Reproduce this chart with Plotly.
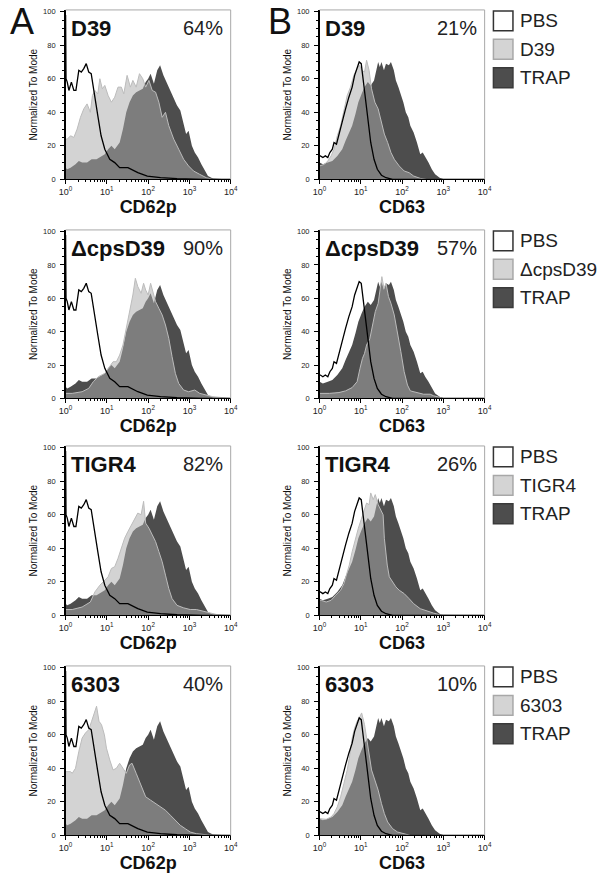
import numpy as np
import plotly.graph_objects as go

# ---------------- text / categories ----------------
strains = ["D39", "\u0394cpsD39", "TIGR4", "6303"]
markers = ["CD62p", "CD63"]
pct_cd62p = ["64%", "90%", "82%", "40%"]
pct_cd63 = ["21%", "57%", "26%", "10%"]
panel_letters = ["A", "B"]
control_label = "PBS"
agonist_label = "TRAP"
y_title = "Normalized To Mode"
x_tick_vals = [1, 10, 100, 1000, 10000]
x_tick_text = ["10<sup>0</sup>", "10<sup>1</sup>", "10<sup>2</sup>", "10<sup>3</sup>", "10<sup>4</sup>"]
y_tick_vals = [0, 20, 40, 60, 80, 100]

# ---------------- data (log10 fluorescence, % of mode) ----------------
# CD62p controls
cd62p_pbs_lx = [0.00, 0.01, 0.04, 0.08, 0.14, 0.20, 0.25, 0.32, 0.38, 0.44, 0.50, 0.56, 0.62, 0.65,
                0.70, 0.78, 0.86, 0.95, 1.07, 1.19, 1.31, 1.51, 1.75, 1.98, 2.30, 2.70, 3.33, 4.00]
cd62p_pbs_y = [98, 60, 58, 53, 58, 53, 53, 65, 64, 66, 69, 64, 63, 58,
               50, 38, 26, 18, 12, 10, 7, 7, 4, 2, 1, 0.4, 0, 0]
cd62p_trap_lx = [0.00, 0.04, 0.12, 0.24, 0.32, 0.40, 0.52, 0.63, 0.75, 0.87, 0.95, 1.03, 1.11, 1.19, 1.31,
                 1.39, 1.47, 1.55, 1.63, 1.71, 1.79, 1.87, 1.94, 2.00, 2.06, 2.14, 2.22, 2.29, 2.37, 2.46,
                 2.54, 2.62, 2.70, 2.78, 2.86, 2.92, 2.98, 3.06, 3.13, 3.21, 3.29, 3.37, 3.45, 3.57, 4.00]
cd62p_trap_y = [7, 6, 7, 9, 11, 10, 10, 12, 12, 14, 15, 18, 20, 18, 22,
                30, 40, 46, 50, 52, 53, 54, 58, 60, 63, 57, 65, 68, 62, 57,
                52, 48, 44, 41, 32, 27, 29, 20, 16, 13, 9, 5, 2, 0.5, 0]
# CD62p samples
cd62p_d39_lx = [0.00, 0.04, 0.12, 0.20, 0.28, 0.36, 0.44, 0.52, 0.60, 0.65, 0.71, 0.78, 0.83, 0.89, 0.95,
                1.03, 1.11, 1.19, 1.27, 1.35, 1.41, 1.49, 1.57, 1.63, 1.71, 1.79, 1.87, 1.94, 2.02, 2.10,
                2.18, 2.26, 2.34, 2.42, 2.50, 2.62, 2.74, 2.86, 2.98, 3.10, 3.25, 3.41, 3.57, 4.00]
cd62p_d39_y = [24, 24, 26, 25, 30, 37, 42, 45, 40, 50, 53, 51, 60, 54, 56,
               50, 46, 49, 55, 55, 51, 62, 55, 59, 55, 63, 60, 55, 59, 53,
               52, 46, 37, 40, 32, 24, 18, 12, 8, 5, 3, 1, 0, 0]
cd62p_cps_lx = [0.00, 0.16, 0.40, 0.56, 0.67, 0.79, 0.95, 1.07, 1.15, 1.23, 1.31, 1.39, 1.47, 1.55, 1.63,
                1.69, 1.75, 1.83, 1.89, 1.94, 2.00, 2.06, 2.13, 2.18, 2.26, 2.34, 2.42, 2.50, 2.58, 2.66,
                2.74, 2.86, 2.98, 3.13, 3.25, 3.41, 3.57, 4.00]
cd62p_cps_y = [3, 3, 4, 6, 10, 13, 15, 19, 22, 22, 26, 32, 42, 52, 62,
               72, 67, 63, 69, 65, 62, 69, 62, 58, 54, 50, 44, 36, 25, 15,
               9, 5, 4, 5, 3, 2, 1, 0]
cd62p_tigr4_lx = [0.00, 0.16, 0.40, 0.60, 0.71, 0.83, 0.95, 1.03, 1.11, 1.19, 1.27, 1.35, 1.43, 1.51, 1.59,
                  1.67, 1.75, 1.83, 1.89, 1.94, 2.02, 2.10, 2.18, 2.26, 2.34, 2.42, 2.50, 2.58, 2.70, 2.86,
                  3.02, 3.17, 3.33, 3.49, 3.65, 4.00]
cd62p_tigr4_y = [3.5, 3.5, 5, 8, 14, 18, 21, 23, 28, 29, 34, 40, 46, 50, 54,
                 58, 61, 60, 68, 55, 52, 48, 44, 38, 32, 24, 16, 10, 6, 4.5,
                 3.5, 3.5, 2.5, 1.5, 0.6, 0]
cd62p_6303_lx = [0.00, 0.12, 0.16, 0.24, 0.32, 0.40, 0.48, 0.56, 0.63, 0.70, 0.75, 0.81, 0.87, 0.94, 0.99,
                 1.07, 1.15, 1.23, 1.31, 1.39, 1.47, 1.55, 1.61, 1.71, 1.83, 1.94, 2.06, 2.18, 2.30, 2.42,
                 2.54, 2.66, 2.78, 2.90, 3.02, 3.17, 3.49, 4.00]
cd62p_6303_y = [38, 38, 37, 40, 50, 58, 61, 63, 68, 74, 77, 68, 66, 60, 52,
                45, 39, 40, 43, 40, 37, 42, 43, 37, 30, 23, 21, 19, 17, 15,
                12, 9, 6, 4, 2, 1, 0.2, 0]

# CD63 controls
cd63_pbs_lx = [0.00, 0.02, 0.08, 0.14, 0.20, 0.25, 0.31, 0.35, 0.41, 0.47, 0.55, 0.63, 0.71, 0.79,
               0.85, 0.91, 0.96, 1.01, 1.06, 1.12, 1.18, 1.24, 1.32, 1.40, 1.50, 1.61, 1.77, 4.00]
cd63_pbs_y = [14, 14, 13, 14, 13, 16, 18, 22, 21, 27, 34, 42, 49, 55,
              62, 67, 70, 69, 59, 48, 34, 22, 12, 6, 2.5, 1, 0, 0]
cd63_trap_lx = [0.00, 0.08, 0.20, 0.31, 0.43, 0.55, 0.63, 0.71, 0.79, 0.87, 0.94, 1.02, 1.09, 1.17, 1.24,
                1.32, 1.38, 1.42, 1.46, 1.50, 1.56, 1.61, 1.68, 1.73, 1.80, 1.85, 1.91, 1.97, 2.03, 2.09,
                2.15, 2.20, 2.28, 2.36, 2.44, 2.50, 2.56, 2.64, 2.72, 2.80, 2.91, 3.03, 4.00]
cd63_trap_y = [10, 9, 10, 11, 14, 18, 23, 27, 32, 39, 46, 51, 55, 58, 56,
               59, 66, 70, 67, 70, 65, 69, 68, 70, 65, 59, 55, 51, 46, 40,
               37, 32, 28, 22, 15, 16, 13, 10, 6, 3, 1, 0, 0]
# CD63 samples
cd63_d39_lx = [0.00, 0.12, 0.20, 0.28, 0.35, 0.43, 0.51, 0.59, 0.67, 0.75, 0.83, 0.91, 0.97, 1.02, 1.09,
               1.14, 1.20, 1.26, 1.34, 1.42, 1.50, 1.57, 1.65, 1.73, 1.81, 1.93, 2.05, 2.17, 2.28, 2.44,
               2.60, 4.00]
cd63_d39_y = [8, 9, 11, 14, 18, 26, 32, 42, 50, 55, 62, 66, 68, 65, 64,
              71, 65, 54, 46, 42, 34, 27, 22, 16, 12, 8, 5, 4, 2, 0.6,
              0, 0]
cd63_cps_lx = [0.00, 0.24, 0.47, 0.63, 0.79, 0.91, 0.98, 1.04, 1.09, 1.14, 1.22, 1.30, 1.35, 1.42, 1.46,
               1.51, 1.56, 1.61, 1.67, 1.73, 1.81, 1.89, 1.97, 2.05, 2.13, 2.20, 2.36, 2.52, 2.68, 2.76,
               2.91, 2.99, 4.00]
cd63_cps_y = [3, 3, 3.5, 4.5, 6.5, 10, 18, 24, 27, 32, 36, 46, 52, 57, 63,
              73, 66, 69, 61, 57, 50, 40, 28, 16, 8, 4.5, 3.5, 2.5, 2.5, 1.6,
              0.6, 0, 0]
cd63_tigr4_lx = [0.00, 0.04, 0.16, 0.28, 0.39, 0.51, 0.59, 0.67, 0.72, 0.79, 0.87, 0.94, 1.02, 1.09, 1.14,
                 1.20, 1.24, 1.30, 1.35, 1.42, 1.48, 1.54, 1.57, 1.64, 1.69, 1.77, 1.85, 1.93, 2.05, 2.17,
                 2.28, 2.44, 2.60, 2.76, 2.91, 4.00]
cd63_tigr4_y = [9, 9, 8, 9, 12, 15, 19, 25, 30, 38, 46, 52, 58, 64, 67,
                66, 73, 69, 72, 66, 63, 60, 46, 30, 23, 20, 17, 15, 13, 10,
                7, 4, 2.5, 1.4, 0.4, 0]
cd63_6303_lx = [0.00, 0.04, 0.16, 0.28, 0.35, 0.43, 0.51, 0.59, 0.67, 0.72, 0.79, 0.85, 0.91, 0.96, 1.02,
                1.09, 1.14, 1.20, 1.26, 1.34, 1.42, 1.50, 1.57, 1.65, 1.77, 1.89, 2.05, 2.20, 4.00]
cd63_6303_y = [10, 10, 9.6, 11, 13, 17, 23, 31, 39, 46, 58, 64, 68, 70, 73,
               66, 58, 46, 39, 33, 27, 19, 13, 8, 4, 2, 1, 0, 0]

samples = {
    "CD62p": [(cd62p_d39_lx, cd62p_d39_y), (cd62p_cps_lx, cd62p_cps_y),
              (cd62p_tigr4_lx, cd62p_tigr4_y), (cd62p_6303_lx, cd62p_6303_y)],
    "CD63": [(cd63_d39_lx, cd63_d39_y), (cd63_cps_lx, cd63_cps_y),
             (cd63_tigr4_lx, cd63_tigr4_y), (cd63_6303_lx, cd63_6303_y)],
}
controls = {"CD62p": (cd62p_pbs_lx, cd62p_pbs_y), "CD63": (cd63_pbs_lx, cd63_pbs_y)}
traps = {"CD62p": (cd62p_trap_lx, cd62p_trap_y), "CD63": (cd63_trap_lx, cd63_trap_y)}
percents = {"CD62p": pct_cd62p, "CD63": pct_cd63}

# ---------------- styling / layout ----------------
W, H = 602, 884
FONT = "Liberation Sans, Arial, sans-serif"
LIGHT = "#d4d4d4"
LIGHT_OVER = "rgba(212,212,212,0.36)"
LIGHT_EDGE = "#bcbcbc"
DARK = "#4d4d4d"
col_px = [(60, 229), (320, 489)]
row_px = [(7, 178), (229, 399), (447, 618), (669, 840)]
minor_vals = [m * 10 ** d for d in range(4) for m in range(2, 10)]

fig = go.Figure()
layout = dict(width=W, height=H, margin=dict(l=0, r=0, t=0, b=0),
              paper_bgcolor="white", plot_bgcolor="white", showlegend=False,
              hovermode=False, font=dict(family=FONT, color="#111"))
shapes, annotations = [], []

for r in range(4):
    for c, mk in enumerate(markers):
        idx = r * 2 + c + 1
        xa = "x" if idx == 1 else f"x{idx}"
        ya = "y" if idx == 1 else f"y{idx}"
        xk = "xaxis" if idx == 1 else f"xaxis{idx}"
        yk = "yaxis" if idx == 1 else f"yaxis{idx}"
        slx, sy = samples[mk][r]
        tlx, ty = traps[mk]
        plx, py = controls[mk]
        sx = 10 ** np.array(slx)
        tx = 10 ** np.array(tlx)
        px_ = 10 ** np.array(plx)
        common = dict(xaxis=xa, yaxis=ya, mode="lines", hoverinfo="skip", showlegend=False)
        fig.add_trace(go.Scatter(x=sx, y=sy, fill="tozeroy", fillcolor=LIGHT,
                                 line=dict(width=0, color=LIGHT), name=strains[r], **common))
        fig.add_trace(go.Scatter(x=tx, y=ty, fill="tozeroy", fillcolor=DARK,
                                 line=dict(width=0, color=DARK), name=agonist_label, **common))
        fig.add_trace(go.Scatter(x=sx, y=sy, fill="tozeroy", fillcolor=LIGHT_OVER,
                                 line=dict(width=1, color=LIGHT_EDGE), name=strains[r], **common))
        fig.add_trace(go.Scatter(x=px_, y=py, line=dict(width=1.3, color="black"),
                                 name=control_label, **common))

        x0, x1 = col_px[c]
        t, b = row_px[r]
        layout[xk] = dict(type="log", range=[0, 4], domain=[x0 / W, x1 / W], anchor=ya,
                          tickmode="array", tickvals=x_tick_vals, ticktext=x_tick_text,
                          ticks="outside", ticklen=4, tickwidth=1, tickcolor="black",
                          showline=True, linecolor="black", linewidth=1,
                          showgrid=False, zeroline=False,
                          tickfont=dict(size=9, color="#222"),
                          minor=dict(tickmode="array", tickvals=minor_vals, ticks="outside",
                                     ticklen=2, tickcolor="black", showgrid=False),
                          title=dict(text=f"<b>{mk}</b>", font=dict(size=18, color="#111"), standoff=3))
        layout[yk] = dict(range=[0, 101], domain=[1 - b / H, 1 - t / H], anchor=xa,
                          tickmode="array", tickvals=y_tick_vals,
                          ticks="outside", ticklen=4, tickwidth=1, tickcolor="black",
                          showline=True, linecolor="black", linewidth=1.5,
                          showgrid=False, zeroline=False, ticklabelstandoff=3,
                          tickfont=dict(size=7.5, color="#222"),
                          minor=dict(dtick=5, ticks="outside", ticklen=2, tickcolor="black", showgrid=False),
                          title=dict(text=y_title, font=dict(size=10, color="#111"), standoff=3))
        # top / right frame
        shapes.append(dict(type="line", xref=f"{xa} domain", yref=f"{ya} domain",
                           x0=0, x1=1, y0=1, y1=1, line=dict(color="#a8a8a8", width=1)))
        shapes.append(dict(type="line", xref=f"{xa} domain", yref=f"{ya} domain",
                           x0=1, x1=1, y0=0, y1=1, line=dict(color="#a8a8a8", width=1)))
        ytxt = 1 - 18.5 / (b - t)
        annotations.append(dict(text=f"<b>{strains[r]}</b>", xref=f"{xa} domain", yref=f"{ya} domain",
                                x=0.02, y=ytxt, xanchor="left", yanchor="middle", showarrow=False,
                                font=dict(size=22, color="#111")))
        annotations.append(dict(text=percents[mk][r], xref=f"{xa} domain", yref=f"{ya} domain",
                                x=0.965, y=ytxt, xanchor="right", yanchor="middle", showarrow=False,
                                font=dict(size=20, color="#222")))

    # legend for the row (to the right of panel B)
    t = row_px[r][0]
    leg = [(control_label, "white", "#333333"), (strains[r], LIGHT, "#a8a8a8"), (agonist_label, DARK, "#3a3a3a")]
    for k, (lab, fc, ec) in enumerate(leg):
        cy = t + 11 + k * 28.7
        shapes.append(dict(type="rect", xref="paper", yref="paper",
                           x0=498 / W, x1=518 / W, y0=1 - (cy + 10) / H, y1=1 - (cy - 10) / H,
                           fillcolor=fc, line=dict(color=ec, width=1.5)))
        annotations.append(dict(text=lab, xref="paper", yref="paper", x=523 / W, y=1 - cy / H,
                                xanchor="left", yanchor="middle", showarrow=False,
                                font=dict(size=19, color="#222")))

for letter, xc in zip(panel_letters, [15, 279]):
    annotations.append(dict(text=letter, xref="paper", yref="paper", x=xc / W, y=1 - 19 / H,
                            xanchor="center", yanchor="middle", showarrow=False,
                            font=dict(size=36, color="#111")))

layout["shapes"] = shapes
layout["annotations"] = annotations
fig.update_layout(**layout)
fig.write_html("out.html", config={"displayModeBar": False, "staticPlot": True},
               post_script="document.body.style.margin='0px';document.body.style.overflow='hidden';")
